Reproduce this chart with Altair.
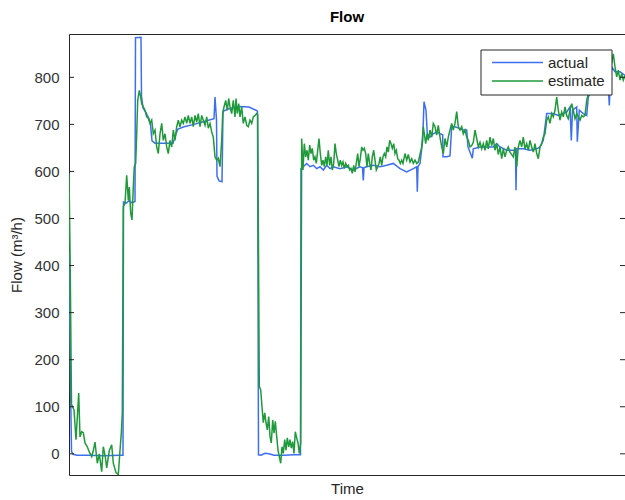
import altair as alt
import pandas as pd

FONT = "Liberation Sans"

# Measured flow (m3/h) against sample time
actual_t = [0, 1.5, 2.5, 4, 8, 20, 35, 50, 54,
            54.5, 57, 60, 63, 66,
            66.5, 72, 72.5, 74, 77, 80, 81.5, 83, 86, 95,
            104, 107, 109, 115, 125, 135, 145, 146, 147.5, 148,
            150, 153, 154, 160, 170, 180, 187, 188.5, 189.5, 192,
            196, 200, 205, 215, 225, 231.5, 232, 234.3, 237.7, 241,
            244.3, 247.7, 251, 254.3, 257.7, 261, 264.3, 271, 277.7, 284.3,
            291, 293.5, 294.3, 295, 297.7, 304.3, 311, 317.7, 324.3, 331,
            337.7, 344.3, 347.7, 348.3, 349, 351, 353.7, 355, 357, 358.3,
            361, 364.3, 367.7, 371, 373.7, 374, 377.7, 381, 382.7, 386,
            391, 394.3, 397.7, 399, 403.3, 404.3, 411, 417.7, 424.3, 427.7,
            431, 437.7, 444.3, 446.5, 447, 447.7, 454.3, 461, 467.7, 471,
            474.3, 477.7, 484.3, 489.3, 494.3, 497.7, 501, 502.3, 503.5, 507.7,
            508.3, 510.3, 514.3, 517.7, 519.3, 522.7, 527.7, 534.3, 539.3, 540.3,
            541.3, 542.7, 546, 551, 556]
actual_v = [430, 150, 5, -1, -3, -3, -4, -3, -3,
            535, 532, 538, 533, 536,
            884, 885, 760, 735, 725, 712, 700, 665, 660, 660,
            660, 680, 690, 695, 700, 706, 712, 758, 710, 590,
            580, 578, 728, 733, 738, 737, 730, 728, -2, -3,
            1, 0, -3, -3, -2, -2, 606, 610, 617, 610,
            613, 606, 610, 603, 613, 606, 610, 606, 610, 603,
            610, 608, 581, 608, 610, 613, 610, 613, 617, 606,
            599, 606, 610, 557, 610, 617, 666, 748, 730, 680,
            673, 680, 684, 680, 678, 631, 631, 633, 695, 695,
            691, 688, 688, 652, 628, 648, 652, 652, 652, 659,
            652, 645, 645, 645, 560, 648, 648, 645, 648, 652,
            666, 723, 723, 719, 723, 726, 737, 666, 730, 737,
            663, 730, 723, 719, 758, 772, 773, 783, 780, 740,
            790, 822, 812, 812, 804]

# Estimated flow, one list per operating period
est_t_1 = [0, 1.2, 2.5, 5, 7, 9.7, 11, 12.7, 14.3, 16, 18.3, 20.3, 22.7, 24.3, 26,
           28.3, 30.3, 32.7, 34.3, 36.3, 37.7, 40.3, 42.7, 44.3, 47, 49.3, 51, 52.3, 53.3]
est_v_1 = [596, 400, 105, 93, 30, 129, 36, 47, 45, 23, 15, 4, -6, 7, 25,
           -20, 0, -38, 15, -6, -30, 7, 19, -20, -40, -44, 7, 44, 87]

est_t_2 = [54.3, 56, 57.7, 59.3, 60.3, 61.7, 63, 64.3, 65.3, 66.7,
           67.7, 68.7, 70.3, 71.7, 72.7, 74.3, 76, 77.7, 79.3, 81,
           82.7, 84.3, 86, 87.7, 89.3, 91, 92.7, 94.3, 96, 97.7,
           99.3, 101, 102.7, 104.3, 106, 107.7, 109.3, 111, 112.7, 114.3,
           116, 117.7, 119.3, 121, 122.7, 124.3, 126, 127.7, 129.3, 131,
           132.7, 134.3, 136, 137.7, 139.3, 141, 142.7, 144.3, 146, 147.7,
           149.3, 151, 152.7, 153.7, 155, 156.7, 158.3, 159.7, 161, 162.7,
           164.3, 166, 167, 168.3, 169.7, 171, 172.7, 174.3, 176, 177.7,
           179.3, 181, 182.7, 184.3, 186, 187.7, 188.7]
est_v_2 = [525, 532, 592, 539, 567, 511, 497, 567, 610, 617,
           680, 751, 772, 758, 744, 737, 730, 716, 713, 702,
           709, 680, 688, 652, 638, 680, 702, 666, 680, 652,
           638, 666, 652, 688, 666, 695, 709, 695, 709, 702,
           716, 702, 719, 702, 716, 695, 719, 705, 723, 695,
           719, 709, 698, 716, 692, 702, 684, 673, 631, 624,
           628, 610, 666, 723, 737, 751, 730, 755, 737, 723,
           751, 716, 755, 723, 744, 716, 737, 702, 716, 698,
           695, 709, 702, 716, 719, 723, 720]

est_t_3 = [190.3, 191.7, 193, 194.3, 195.7, 197, 198.3, 199.7, 201, 202.3,
           203.7, 205, 206.3, 207.7, 209, 210.3, 211.7, 213, 214.3, 215.7,
           217, 218.3, 219.7, 221, 222.3, 223.7, 225, 226.3, 227.7, 229,
           230.3, 231.7]
est_v_3 = [143, 136, 100, 66, 87, 66, 51, 79, 37, 23,
           72, 44, 69, 37, 8, -6, -20, 15, 1, 30,
           8, 34, 15, 30, 12, 26, 1, 47, 34, 23,
           1, 23]

est_t_4 = [232.7, 234, 235.3, 236.7, 238, 239.3, 240.7, 242, 243.3, 244.7,
           246, 247.3, 248.7, 250, 251.3, 252.7, 254, 255.3, 256.7, 258,
           259.3, 260.7, 262, 263.3, 264.7, 266, 267.3, 268.7, 270, 271.3,
           272.7, 274, 275.3, 276.7, 278, 279.3, 280.7, 282, 283.3, 284.7,
           286, 287.3, 288.7, 290, 291.3, 292.7, 294, 295.3, 296.7, 298,
           299.3, 300.7, 302, 303.3, 304.7, 306, 307.3, 308.7, 310, 311.3,
           312.7, 314, 315.3, 316.7, 318, 319.3, 320.7, 322, 323.3, 324.7,
           326, 327.3, 328.7, 330, 331.3, 332.7, 334]
est_v_4 = [670, 603, 659, 631, 645, 624, 656, 638, 649, 624,
           631, 617, 645, 670, 638, 613, 624, 610, 631, 613,
           645, 613, 631, 603, 617, 659, 638, 624, 610, 624,
           613, 620, 606, 617, 610, 613, 603, 606, 596, 613,
           599, 617, 638, 610, 627, 652, 645, 649, 638, 610,
           638, 617, 603, 631, 645, 624, 603, 610, 617, 631,
           613, 631, 638, 631, 652, 641, 666, 659, 649, 659,
           638, 645, 627, 624, 617, 624, 617]

est_t_5 = [336, 337.7, 339.3, 341, 342.7, 344.3, 346, 347.7, 349.3, 351,
           352.7, 354.3, 355.3, 356.7, 358, 359.3, 361, 362.7, 364.3, 366,
           367.7, 369.3, 371, 372.7, 374.3, 376, 377.7, 379.3, 381, 382.7,
           384.3, 386, 387.7, 389.3, 391, 392.7, 394.3, 396, 397.7, 399.3,
           401, 402.7, 404.3, 406, 407.7, 409.3, 411, 412.7, 414.3, 416,
           417.7, 419.3, 421, 422.7, 424.3, 426, 427.7, 429.3, 431, 432.7,
           434.3, 436, 437.7, 439.3, 441]
est_v_5 = [638, 624, 636, 620, 627, 617, 624, 617, 620, 636,
           652, 695, 680, 659, 680, 666, 688, 673, 702, 695,
           677, 698, 673, 652, 638, 670, 652, 673, 688, 702,
           688, 702, 727, 695, 688, 695, 680, 688, 673, 666,
           652, 655, 662, 688, 670, 652, 662, 648, 659, 645,
           666, 648, 673, 655, 670, 645, 659, 636, 652, 627,
           648, 631, 645, 652, 641]

est_t_6 = [444.3, 446, 447.7, 449.3, 451, 452.7, 454.3, 456, 457.7, 459.3,
           461, 462.7, 464.3, 466, 467.7, 469.3, 471, 472.7, 474.3, 476,
           477.7, 479.3, 481, 482.7, 484.3, 486, 487.7, 489.3, 491, 492.7,
           494.3, 496, 497.7, 499.3, 501, 502.7, 504.3, 506, 507.7, 509.3,
           511, 512.7, 514.3, 516, 517.7, 519.3, 521, 526, 532, 538,
           542.7, 544.3, 546, 547.7, 549.3, 551, 552.7, 554.3, 556]
est_v_6 = [631, 652, 610, 652, 666, 652, 673, 648, 659, 645,
           666, 652, 641, 659, 638, 627, 652, 659, 673, 680,
           709, 716, 702, 723, 716, 730, 758, 730, 709, 726,
           716, 737, 719, 712, 730, 744, 730, 712, 723, 716,
           709, 719, 716, 719, 751, 765, 780, 790, 785, 800,
           830, 850, 822, 801, 815, 794, 808, 794, 804]

estimate_t = est_t_1 + est_t_2 + est_t_3 + est_t_4 + est_t_5 + est_t_6
estimate_v = est_v_1 + est_v_2 + est_v_3 + est_v_4 + est_v_5 + est_v_6

series_names = ["actual", "estimate"]
series_colors = ["#3d6ff0", "#1f9a3a"]
y_ticks = [0, 100, 200, 300, 400, 500, 600, 700, 800]
y_limits = [-45, 892]

actual = pd.DataFrame({"t": actual_t, "flow": actual_v, "series": "actual"})
estimate = pd.DataFrame({"t": estimate_t, "flow": estimate_v, "series": "estimate"})
tick_df = pd.DataFrame({"flow": y_ticks})

AX = "#262626"
W, H = 556, 441
LINE_W = 1.5

x_enc = alt.X(
    "t:Q",
    scale=alt.Scale(nice=False, zero=False),
    axis=alt.Axis(title="Time", labels=False, ticks=False, domain=False, grid=False,
                  titlePadding=6, titleFontSize=15, titleFontWeight="normal",
                  titleColor=AX, titleFont=FONT),
)
y_scale = alt.Scale(domain=y_limits, nice=False, zero=False)
y_enc = alt.Y(
    "flow:Q",
    scale=y_scale,
    axis=alt.Axis(values=y_ticks, title="Flow (m³/h)", ticks=False, domain=False, grid=False,
                  labelPadding=10, labelFontSize=15, labelFont=FONT, labelColor="#333333",
                  titleFontSize=15, titleFont=FONT, titleFontWeight="normal",
                  titleColor=AX, titlePadding=9),
)
color_enc = alt.Color(
    "series:N",
    scale=alt.Scale(domain=series_names, range=series_colors),
    legend=None,
)

actual_line = alt.Chart(actual).mark_line(strokeWidth=LINE_W, clip=True).encode(
    x=x_enc, y=y_enc, color=color_enc)
estimate_line = alt.Chart(estimate).mark_line(strokeWidth=LINE_W, clip=True).encode(
    x=x_enc, y=y_enc, color=color_enc)

# inward tick marks on both vertical sides of the frame
left_ticks = alt.Chart(tick_df).mark_rule(color=AX, strokeWidth=1).encode(
    y=y_enc, x=alt.value(0), x2=alt.value(5))
right_ticks = alt.Chart(tick_df).mark_rule(color=AX, strokeWidth=1).encode(
    y=y_enc, x=alt.value(W - 5), x2=alt.value(W))

# boxed legend in the upper right corner of the axes
LEG_X, LEG_Y, LEG_W, LEG_H = 412, 16, 131, 45
ROW_Y = [28.5, 47]
legend_layers = [
    alt.Chart(pd.DataFrame({"series": ["box"]})).mark_rect(
        fill="white", stroke=AX, strokeWidth=1).encode(
        x=alt.value(LEG_X), x2=alt.value(LEG_X + LEG_W),
        y=alt.value(LEG_Y), y2=alt.value(LEG_Y + LEG_H))
]
for name, col, ry in zip(series_names, series_colors, ROW_Y):
    entry = pd.DataFrame({"series": [name]})
    legend_layers.append(
        alt.Chart(entry).mark_rule(color=col, strokeWidth=LINE_W).encode(
            x=alt.value(LEG_X + 11), x2=alt.value(LEG_X + 62), y=alt.value(ry)))
    legend_layers.append(
        alt.Chart(entry).mark_text(align="left", baseline="middle", fontSize=15,
                                   font=FONT, color=AX).encode(
            x=alt.value(LEG_X + 67), y=alt.value(ry), text="series:N"))

chart = (
    alt.layer(actual_line, estimate_line, left_ticks, right_ticks, *legend_layers)
    .properties(
        width=W, height=H,
        title=alt.TitleParams("Flow", fontSize=15, fontWeight="bold", font=FONT,
                              color="#000000", offset=9),
        padding={"left": 69, "top": 34, "right": 0, "bottom": 25},
        autosize=alt.AutoSizeParams(type="none"),
    )
    .configure(background="white")
    .configure_view(stroke=AX, strokeWidth=1)
)

chart.save("out.html", embed_options={"renderer": "svg", "actions": False})
